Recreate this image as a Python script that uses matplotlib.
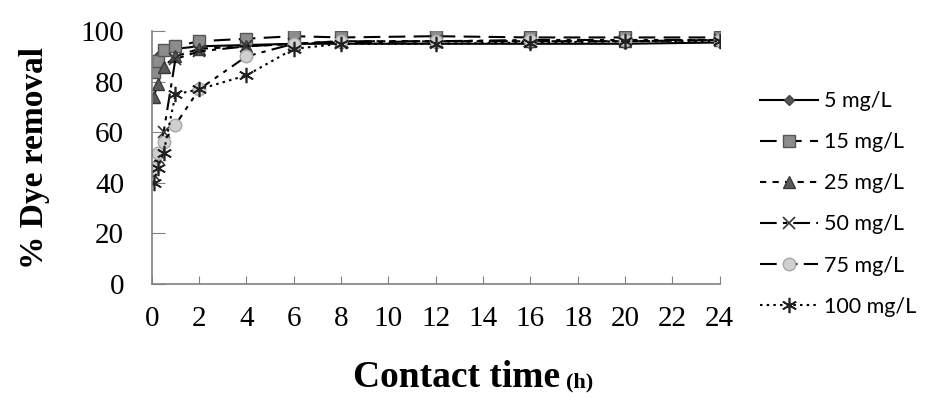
import matplotlib.pyplot as plt

# contact time (h) and % dye removal for each initial dye concentration
hours = [0.083, 0.25, 0.5, 1, 2, 4, 6, 8, 12, 16, 20, 24]
dye_5 = [88, 90, 92, 93, 94, 94.5, 95, 95, 95, 95, 95, 95.5]
dye_15 = [84, 88, 92.5, 94, 96, 97, 98, 97.5, 98, 97.5, 97.5, 97.5]
dye_25 = [74, 79, 86, 90, 93, 94, 95, 96, 96, 96, 96, 96.5]
dye_50 = [43, 50, 60, 89, 92, 94, 95, 95.5, 96, 96, 96, 96.5]
dye_75 = [46, 52, 56, 63, 77, 90, 95, 96, 96, 96.5, 96.5, 96.5]
dye_100 = [40, 46, 52, 75, 77, 82.5, 93, 95, 95, 95.5, 96, 96]
labels = ["5 mg/L", "15 mg/L", "25 mg/L", "50 mg/L", "75 mg/L", "100 mg/L"]

asterisk = (6, 2, 0)
styles = [
    dict(ls="-", marker="D", ms=5, mfc="#555555", mec="#444444"),
    dict(ls=(0, (8, 4)), marker="s", ms=8.5, mfc="#8c8c8c", mec="#555555"),
    dict(ls=(0, (3, 3)), marker="^", ms=9, mfc="#5a5a5a", mec="#3a3a3a"),
    dict(ls=(0, (8, 3, 2, 3)), marker="x", ms=9, mfc="none", mec="#333333", mew=1.2),
    dict(ls=(0, (8, 3, 2, 3, 2, 3)), marker="o", ms=9, mfc="#d0d0d0", mec="#a8a8a8"),
    dict(ls=(0, (1.2, 2)), marker=asterisk, ms=11, mfc="none", mec="#222222", mew=1.2),
]
series = [dye_5, dye_15, dye_25, dye_50, dye_75, dye_100]

fig = plt.figure(figsize=(9.37, 3.99), dpi=100)
ax = fig.add_axes([0.162, 0.288, 0.606, 0.634])

for vals, lab, st in zip(series, labels, styles):
    ax.plot(hours, vals, color="black", lw=1.5, label=lab, **st)

ax.set_xlim(0, 24)
ax.set_ylim(0, 100)
ax.set_xticks(range(0, 25, 2))
ax.set_yticks(range(0, 101, 20))
for side in ["top", "right"]:
    ax.spines[side].set_visible(False)
for side in ["left", "bottom"]:
    ax.spines[side].set_color("#808080")
    ax.spines[side].set_linewidth(1.2)
ax.tick_params(axis="x", direction="in", length=6, color="#808080", pad=16,
               labelsize=21, labelfontfamily="Liberation Serif")
ax.tick_params(axis="y", direction="in", length=9, color="#808080", pad=20,
               labelsize=21, labelfontfamily="Liberation Serif")

ax.set_ylabel("% Dye removal", fontsize=24, fontweight="bold",
              family="Liberation Serif", labelpad=22)
fig.text(0.598, 0.03, "Contact time", fontsize=27, fontweight="bold",
         family="Liberation Serif", ha="right", va="baseline")
fig.text(0.604, 0.03, "(h)", fontsize=16, fontweight="bold",
         family="Liberation Serif", ha="left", va="baseline")

ax.legend(loc="upper left", bbox_to_anchor=(0.79, 0.82),
          bbox_transform=fig.transFigure, frameon=False, numpoints=1,
          handlelength=2.7, handletextpad=0.3, labelspacing=0.98,
          prop={"family": "Lato", "size": 15.5})

fig.savefig("out.png", dpi=100)
